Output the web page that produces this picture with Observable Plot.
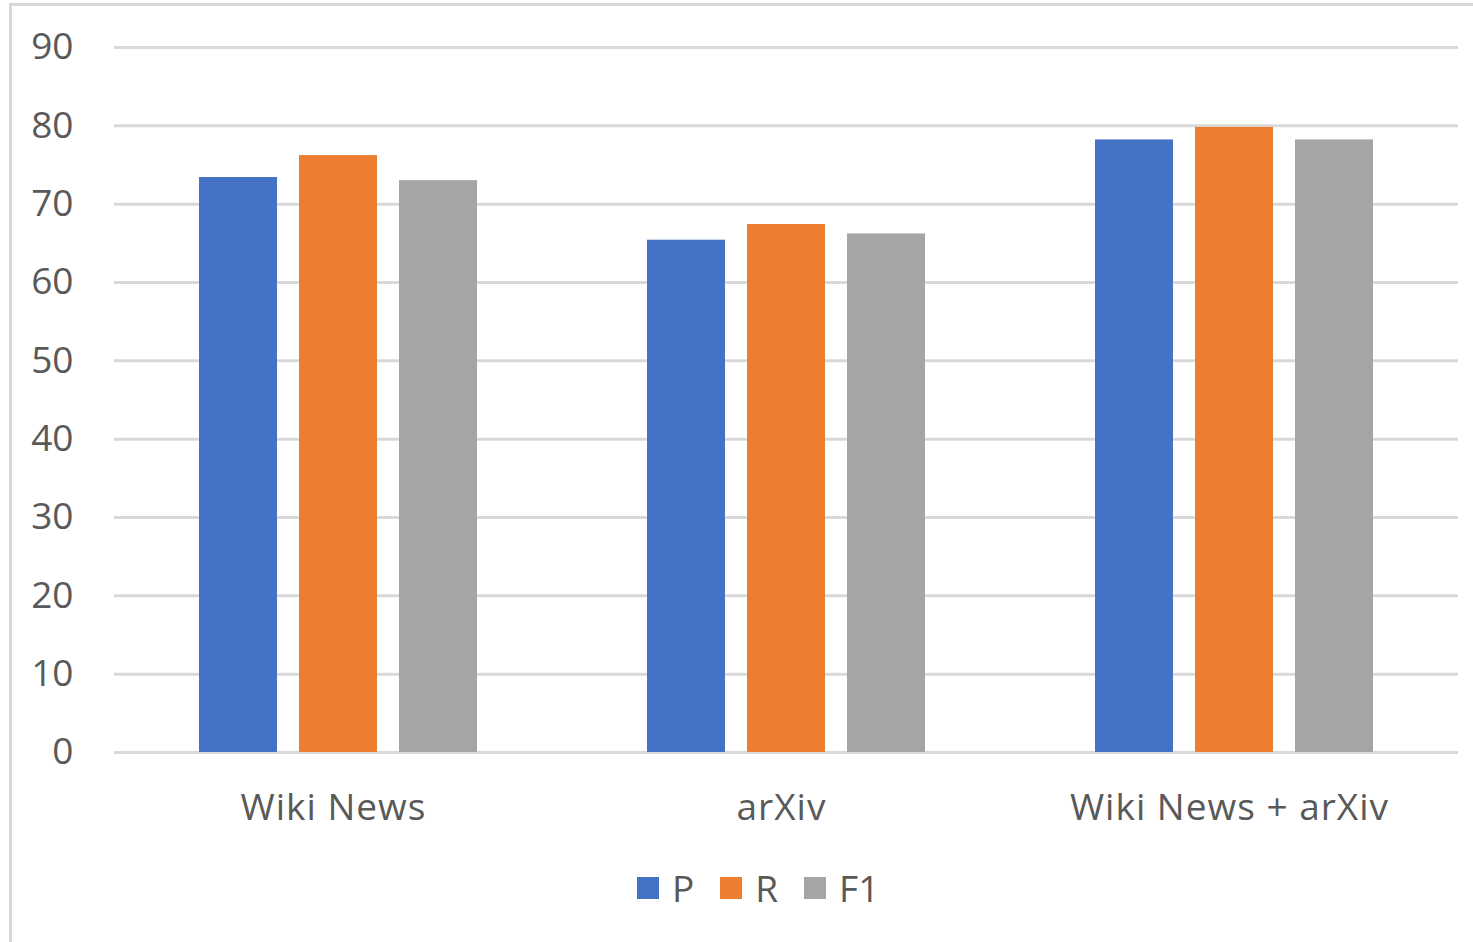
<!DOCTYPE html>
<html>
<head>
<meta charset="utf-8">
<script src="https://cdn.jsdelivr.net/npm/d3@7"></script>
<script src="https://cdn.jsdelivr.net/npm/@observablehq/plot@0.6"></script>
<style>
  html, body { margin: 0; padding: 0; background: #fff; }
  #wrap { position: relative; width: 1473px; height: 942px; overflow: hidden; font-family: "Open Sans", sans-serif; }
  #frame { position: absolute; left: 9px; top: 3px; width: 1480px; height: 960px; border-top: 3px solid #d9d9d9; border-left: 3px solid #d9d9d9; box-sizing: border-box; }
  #chart { position: absolute; left: 0; top: 0; }
  #chart g[aria-label="fx-axis tick label"] text { letter-spacing: 1px; }
  #legend { position: absolute; left: 637px; top: 866px; display: flex; align-items: center; font-size: 37px; color: #595959; line-height: 44px; }
  .item { display: flex; align-items: center; margin-right: 26px; }
  .sw { width: 22px; height: 22px; margin-right: 13px; }
</style>
</head>
<body>
<div id="wrap">
  <div id="frame"></div>
  <div id="chart"></div>
  <div id="legend"></div>
</div>
<script>
const groups = ["Wiki News", "arXiv", "Wiki News + arXiv"];
const series = ["P", "R", "F1"];
const valuesP = [73.4, 65.4, 78.2];
const valuesR = [76.2, 67.4, 79.8];
const valuesF1 = [73.0, 66.2, 78.2];
const colors = ["#4472c4", "#ed7d31", "#a5a5a5"];
const yTicks = [0, 10, 20, 30, 40, 50, 60, 70, 80, 90];

const seriesValues = {P: valuesP, R: valuesR, F1: valuesF1};
const data = [];
groups.forEach((g, i) => {
  series.forEach(s => data.push({group: g, series: s, value: seriesValues[s][i]}));
});

const chart = Plot.plot({
  width: 1473,
  height: 850,
  marginLeft: 113,
  marginRight: 15,
  marginTop: 47,
  marginBottom: 98,
  style: {fontFamily: "Open Sans, sans-serif", fontSize: "37px", color: "#595959", background: "transparent"},
  fx: {domain: groups, padding: 0, label: null},
  x: {domain: series, paddingInner: 0.22, paddingOuter: 0.85, axis: null},
  y: {domain: [0, 90], ticks: yTicks, label: null},
  color: {domain: series, range: colors},
  marks: [
    Plot.gridY(yTicks, {stroke: "#d9d9d9", strokeOpacity: 1, strokeWidth: 3}),
    Plot.barY(data, {fx: "group", x: "series", y: "value", fill: "series"}),
    Plot.axisY(yTicks, {tickSize: 0, tickPadding: 41, label: null, fontSize: 37}),
    Plot.axisFx({anchor: "bottom", tickSize: 0, tickPadding: 41, dx: -5, label: null, fontSize: 37})
  ]
});
document.getElementById("chart").appendChild(chart);

const legend = document.getElementById("legend");
series.forEach((s, i) => {
  const item = document.createElement("div");
  item.className = "item";
  const sw = document.createElement("div");
  sw.className = "sw";
  sw.style.background = colors[i];
  const label = document.createElement("span");
  label.textContent = s;
  item.appendChild(sw);
  item.appendChild(label);
  legend.appendChild(item);
});
</script>
</body>
</html>
